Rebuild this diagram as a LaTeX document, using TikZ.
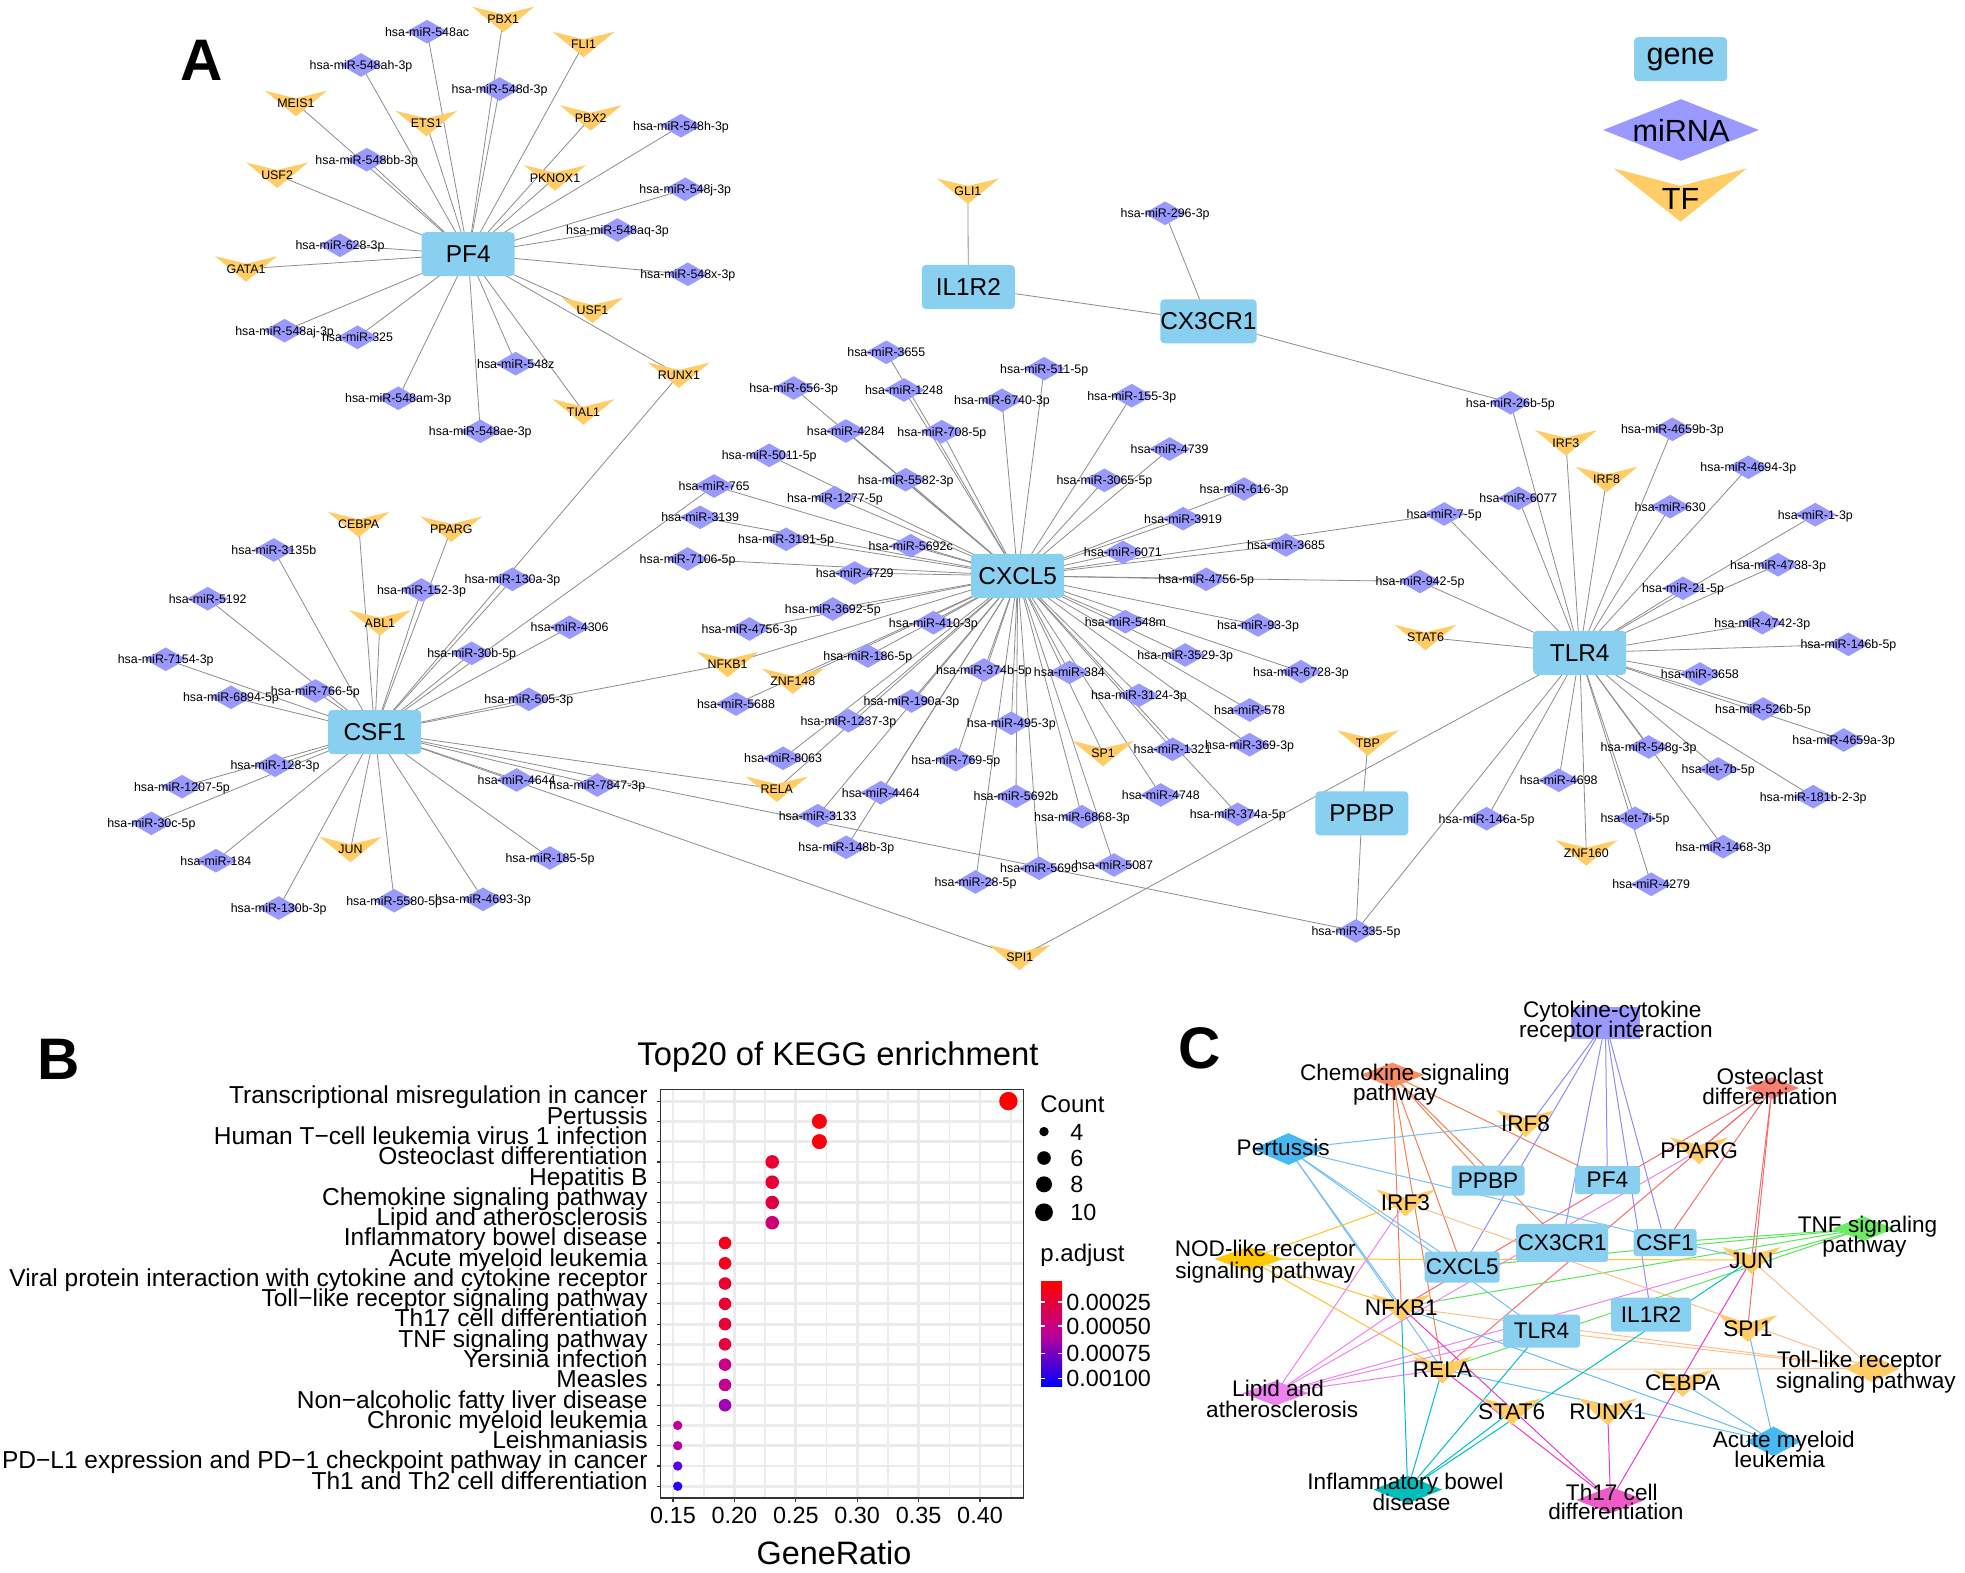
\documentclass[tikz,border=0pt]{standalone}
\usepackage{fontspec}
\setmainfont{Liberation Sans}
\usetikzlibrary{shapes.geometric,backgrounds}
\definecolor{genec}{RGB}{137,207,240}
\definecolor{mirc}{RGB}{153,153,255}
\definecolor{tfc}{RGB}{255,204,102}
\definecolor{edgec}{RGB}{140,140,140}
\definecolor{gridc}{RGB}{235,235,235}
\definecolor{axc}{RGB}{51,51,51}
\definecolor{fCyto}{RGB}{153,153,255}
\definecolor{fChemo}{RGB}{250,140,100}
\definecolor{fOsteo}{RGB}{250,128,114}
\definecolor{fPert}{RGB}{70,185,245}
\definecolor{fTNF}{RGB}{110,235,100}
\definecolor{fNOD}{RGB}{255,200,0}
\definecolor{fToll}{RGB}{255,204,102}
\definecolor{fLipid}{RGB}{238,130,238}
\definecolor{fAML}{RGB}{70,185,245}
\definecolor{fIBD}{RGB}{0,190,190}
\definecolor{fTh}{RGB}{240,90,200}
\definecolor{eCyto}{RGB}{140,140,250}
\definecolor{eChemo}{RGB}{245,125,80}
\definecolor{eOsteo}{RGB}{245,110,110}
\definecolor{ePert}{RGB}{120,190,245}
\definecolor{eTNF}{RGB}{90,230,90}
\definecolor{eNOD}{RGB}{255,195,40}
\definecolor{eToll}{RGB}{255,190,140}
\definecolor{eLipid}{RGB}{240,130,240}
\definecolor{eAML}{RGB}{100,190,240}
\definecolor{eIBD}{RGB}{0,190,200}
\definecolor{eTh}{RGB}{230,60,210}
\definecolor{d1}{RGB}{255,0,0}
\definecolor{d2}{RGB}{252,0,12}
\definecolor{d3}{RGB}{252,0,12}
\definecolor{d4}{RGB}{232,0,50}
\definecolor{d5}{RGB}{232,0,52}
\definecolor{d6}{RGB}{225,0,70}
\definecolor{d7}{RGB}{205,0,115}
\definecolor{d8}{RGB}{245,0,28}
\definecolor{d9}{RGB}{245,0,30}
\definecolor{d10}{RGB}{236,0,50}
\definecolor{d11}{RGB}{236,0,52}
\definecolor{d12}{RGB}{234,0,56}
\definecolor{d13}{RGB}{230,0,62}
\definecolor{d14}{RGB}{200,0,135}
\definecolor{d15}{RGB}{195,0,145}
\definecolor{d16}{RGB}{165,0,185}
\definecolor{d17}{RGB}{190,0,150}
\definecolor{d18}{RGB}{185,0,160}
\definecolor{d19}{RGB}{85,0,240}
\definecolor{d20}{RGB}{35,0,255}
\newcommand\mirN[4]{\node[mirna] (#1) at (#2,#3) {};\node[mtxt] (#1t) at (#2,#3) {#4};}
\newcommand\tfN[4]{\fill[tfc,shift={(#2,#3)}] (-31,-12.5) -- (0,-5) -- (31,-12.5) -- (0,13) -- cycle;\node[mtxt] (#1) at (#2,#3) {#4};}
\newcommand\tfC[4]{\fill[tfc,shift={(#2,#3)}] (-29.5,-13) -- (0,-5) -- (29.5,-13) -- (0,14) -- cycle;\node[ctxt] (#1) at (#2,#3) {#4};}
\newcommand\pwN[6]{\node[diamond,fill=#6,minimum width=#4,minimum height=#5,inner sep=0pt] (#1) at (#2,#3) {};}
\newcommand\gC[6]{\node[geneC,minimum width=#4,minimum height=#5] (#1) at (#2,#3) {#6};}
\begin{document}
\begin{tikzpicture}[x=0.5pt,y=-0.5pt,
 geneA/.style={rectangle,rounded corners=2pt,fill=genec,minimum width=46.5pt,minimum height=22pt,inner sep=0pt,font=\fontsize{12.2}{13}\selectfont},
 mirna/.style={diamond,fill=mirc,minimum width=21pt,minimum height=12pt,inner sep=0pt},
 mtxt/.style={inner sep=0pt,font=\fontsize{6.2}{7}\selectfont,text height=4.45pt,text depth=0pt},
 ctxt/.style={inner sep=0pt,font=\fontsize{11.3}{12}\selectfont,text height=8.1pt,text depth=0pt},
 geneC/.style={rectangle,rounded corners=1.5pt,fill=genec,inner sep=0pt,font=\fontsize{11.3}{12}\selectfont},
 edgeA/.style={draw=edgec,line width=0.4pt},
 edgeC/.style={line width=0.5pt},
 lbl/.style={inner sep=0pt,font=\fontsize{29.3}{30}\selectfont\bfseries},
 btxt/.style={inner sep=0pt,font=\fontsize{12.25}{13}\selectfont,text height=8.8pt,text depth=0pt,anchor=east},
 ttxt/.style={inner sep=0pt,font=\fontsize{11.7}{12}\selectfont,text height=8.4pt,text depth=0pt},
]
\useasboundingbox (0,0) rectangle (1965,1573);
% ================= PANEL A =================
\node[lbl] (labA) at (202,60) {A};
% PF4 cluster
\mirN{m548ac}{427.1}{31.7}{hsa-miR-548ac}
\tfN{tPBX1}{503.2}{19.3}{PBX1}
\tfN{tFLI1}{583.5}{44.3}{FLI1}
\mirN{m548ah}{361}{65}{hsa-miR-548ah-3p}
\mirN{m548d}{499.6}{89}{hsa-miR-548d-3p}
\tfN{tMEIS1}{296}{103.3}{MEIS1}
\tfN{tETS1}{426.4}{123.3}{ETS1}
\tfN{tPBX2}{590.7}{117.7}{PBX2}
\mirN{m548h}{681}{125.7}{hsa-miR-548h-3p}
\mirN{m548bb}{366.8}{159.7}{hsa-miR-548bb-3p}
\tfN{tUSF2}{277.1}{175}{USF2}
\tfN{tPKNOX1}{555}{177.7}{PKNOX1}
\mirN{m548j}{685.3}{189.3}{hsa-miR-548j-3p}
\mirN{m548aq}{617.5}{230}{hsa-miR-548aq-3p}
\mirN{m628}{340}{245.3}{hsa-miR-628-3p}
\tfN{tGATA1}{246.1}{268.7}{GATA1}
\mirN{m548x}{687.8}{274.3}{hsa-miR-548x-3p}
\tfN{tUSF1}{592.5}{310}{USF1}
\mirN{m548aj}{284.6}{330.7}{hsa-miR-548aj-3p}
\mirN{m325}{357.5}{337.3}{hsa-miR-325}
\mirN{m548z}{515.7}{363.7}{hsa-miR-548z}
\tfN{tRUNX1}{678.9}{375}{RUNX1}
\mirN{m548am}{398.2}{398.3}{hsa-miR-548am-3p}
\tfN{tTIAL1}{583.5}{411.7}{TIAL1}
\mirN{m548ae}{480.3}{431.3}{hsa-miR-548ae-3p}
% CSF1 cluster
\tfN{tCEBPA}{358.7}{524.3}{CEBPA}
\tfN{tPPARG}{451.3}{529}{PPARG}
\mirN{m3135b}{273.8}{550}{hsa-miR-3135b}
\mirN{m130a}{512.5}{579.3}{hsa-miR-130a-3p}
\mirN{m152}{421.5}{590}{hsa-miR-152-3p}
\mirN{m5192}{207.7}{598.7}{hsa-miR-5192}
\tfN{tABL1}{379.9}{622.7}{ABL1}
\mirN{m4306}{569.6}{627.3}{hsa-miR-4306}
\mirN{m30b}{471.7}{653.3}{hsa-miR-30b-5p}
\mirN{m7154}{165.7}{659.3}{hsa-miR-7154-3p}
\mirN{m766}{315.4}{691}{hsa-miR-766-5p}
\mirN{m6894}{231}{697.3}{hsa-miR-6894-5p}
\mirN{m505}{528.8}{699.3}{hsa-miR-505-3p}
\mirN{m128}{275}{765.3}{hsa-miR-128-3p}
\mirN{m1207}{182}{786.7}{hsa-miR-1207-5p}
\mirN{m4644}{516.6}{780}{hsa-miR-4644}
\mirN{m7847}{597.3}{785}{hsa-miR-7847-3p}
\mirN{m30c}{151.4}{823.3}{hsa-miR-30c-5p}
\tfN{tJUN}{350.5}{849.3}{JUN}
\mirN{m184}{215.9}{860.7}{hsa-miR-184}
\mirN{m185}{550}{858}{hsa-miR-185-5p}
\mirN{m130b}{278.7}{908}{hsa-miR-130b-3p}
\mirN{m5580}{394.2}{900.7}{hsa-miR-5580-5p}
\mirN{m4693}{483.1}{899.3}{hsa-miR-4693-3p}
% CXCL5 cluster
\mirN{m3655}{886.3}{352.3}{hsa-miR-3655}
\mirN{m656}{793.7}{388}{hsa-miR-656-3p}
\mirN{m1248}{904}{390}{hsa-miR-1248}
\mirN{m511}{1044.2}{368.7}{hsa-miR-511-5p}
\mirN{m6740}{1002}{400.3}{hsa-miR-6740-3p}
\mirN{m155}{1131.7}{395.7}{hsa-miR-155-3p}
\mirN{m4284}{845.9}{431}{hsa-miR-4284}
\mirN{m708}{941.9}{431.7}{hsa-miR-708-5p}
\mirN{m5011}{769.2}{455.3}{hsa-miR-5011-5p}
\mirN{m4739}{1169.6}{449}{hsa-miR-4739}
\mirN{m5582}{905.7}{479.7}{hsa-miR-5582-3p}
\mirN{m3065}{1104.4}{480.3}{hsa-miR-3065-5p}
\mirN{m765}{714.1}{486}{hsa-miR-765}
\mirN{m1277}{834.9}{497.7}{hsa-miR-1277-5p}
\mirN{m616}{1244.1}{489}{hsa-miR-616-3p}
\mirN{m3139}{700.2}{517.3}{hsa-miR-3139}
\mirN{m3919}{1183.1}{518.7}{hsa-miR-3919}
\mirN{m3191}{786.1}{539.3}{hsa-miR-3191-5p}
\mirN{m5692c}{910.7}{545.7}{hsa-miR-5692c}
\mirN{m7106}{687.6}{559}{hsa-miR-7106-5p}
\mirN{m6071}{1122.9}{552.3}{hsa-miR-6071}
\mirN{m4729}{854.7}{573}{hsa-miR-4729}
\mirN{m3685}{1286}{545}{hsa-miR-3685}
\mirN{m4756f}{1206.2}{579.3}{hsa-miR-4756-5p}
\mirN{m942}{1420}{581.5}{hsa-miR-942-5p}
\mirN{m7five}{1444.2}{514}{hsa-miR-7-5p}
\mirN{m3692}{832.8}{609}{hsa-miR-3692-5p}
\mirN{m4756t}{749.5}{629}{hsa-miR-4756-3p}
\mirN{m410}{933.4}{622.7}{hsa-miR-410-3p}
\mirN{m548m}{1125.4}{621.7}{hsa-miR-548m}
\mirN{m93}{1258}{625}{hsa-miR-93-3p}
\mirN{m6728}{1301}{671.7}{hsa-miR-6728-3p}
\tfN{tNFKB1}{727.6}{664.3}{NFKB1}
\mirN{m186}{867.8}{656}{hsa-miR-186-5p}
\tfN{tZNF148}{792.8}{681}{ZNF148}
\mirN{m374b}{984}{670}{hsa-miR-374b-5p}
\mirN{m384}{1069.4}{672.3}{hsa-miR-384}
\mirN{m3529}{1185.2}{655}{hsa-miR-3529-3p}
\mirN{m5688}{736}{704}{hsa-miR-5688}
\mirN{m190a}{911.5}{701}{hsa-miR-190a-3p}
\mirN{m3124}{1138.9}{695.3}{hsa-miR-3124-3p}
\mirN{m578}{1249.6}{710}{hsa-miR-578}
\mirN{m1237}{848.4}{720.7}{hsa-miR-1237-3p}
\mirN{m495}{1011.3}{723.3}{hsa-miR-495-3p}
\mirN{m8063}{783.1}{758.3}{hsa-miR-8063}
\mirN{m769}{955.8}{759.7}{hsa-miR-769-5p}
\tfN{tSP1}{1103.1}{753.3}{SP1}
\mirN{m1321}{1172.6}{749.3}{hsa-miR-1321}
\mirN{m369}{1249.6}{744.7}{hsa-miR-369-3p}
\tfN{tRELA}{776.8}{789}{RELA}
\mirN{m4464}{880.8}{792.7}{hsa-miR-4464}
\mirN{m5692b}{1016}{796.3}{hsa-miR-5692b}
\mirN{m4748}{1160.8}{795}{hsa-miR-4748}
\mirN{m3133}{817.7}{815.7}{hsa-miR-3133}
\mirN{m6868}{1082}{816.7}{hsa-miR-6868-3p}
\mirN{m374a}{1237.8}{814.3}{hsa-miR-374a-5p}
\mirN{m148b}{846.3}{847.3}{hsa-miR-148b-3p}
\mirN{m5696}{1039.1}{868.3}{hsa-miR-5696}
\mirN{m5087}{1114}{865}{hsa-miR-5087}
\mirN{m28}{975.5}{882}{hsa-miR-28-5p}
\tfN{tSPI1}{1019.7}{957.3}{SPI1}
% TLR4 cluster
\mirN{m26b}{1510.4}{402.7}{hsa-miR-26b-5p}
\tfN{tIRF3}{1565.9}{442.7}{IRF3}
\mirN{m4659b}{1672.4}{429.3}{hsa-miR-4659b-3p}
\tfN{tIRF8}{1606.6}{479.3}{IRF8}
\mirN{m4694}{1748.3}{467.3}{hsa-miR-4694-3p}
\mirN{m6077}{1518.4}{498.3}{hsa-miR-6077}
\mirN{m630}{1670.2}{506.7}{hsa-miR-630}
\mirN{m1three}{1815.3}{514.7}{hsa-miR-1-3p}
\mirN{m4738}{1778}{564.7}{hsa-miR-4738-3p}
\mirN{m21}{1683}{588.3}{hsa-miR-21-5p}
\mirN{m4742}{1762.3}{622.7}{hsa-miR-4742-3p}
\tfN{tSTAT6}{1425.5}{637.3}{STAT6}
\mirN{m146b}{1848.4}{644.3}{hsa-miR-146b-5p}
\mirN{m3658}{1699.9}{674}{hsa-miR-3658}
\mirN{m526b}{1763.1}{709}{hsa-miR-526b-5p}
\tfN{tTBP}{1367.9}{742.7}{TBP}
\mirN{m4659a}{1843.7}{740}{hsa-miR-4659a-3p}
\mirN{m548g}{1648.6}{747}{hsa-miR-548g-3p}
\mirN{mletsb}{1718.2}{769}{hsa-let-7b-5p}
\mirN{m4698}{1558.7}{780.3}{hsa-miR-4698}
\mirN{m181b}{1813.2}{796.7}{hsa-miR-181b-2-3p}
\mirN{m146a}{1486.6}{818.7}{hsa-miR-146a-5p}
\mirN{mletsi}{1635}{818.3}{hsa-let-7i-5p}
\mirN{m1468}{1723.2}{846.7}{hsa-miR-1468-3p}
\tfN{tZNF160}{1586.3}{852.7}{ZNF160}
\mirN{m4279}{1651.2}{884.3}{hsa-miR-4279}
\mirN{m335}{1356}{931}{hsa-miR-335-5p}
% others
\tfN{tGLI1}{967.9}{191}{GLI1}
\mirN{m296}{1165.1}{213.3}{hsa-miR-296-3p}
% genes
\node[geneA] (PF4) at (468.2,254.2) {PF4};
\node[geneA] (CSF1) at (374.7,732) {CSF1};
\node[geneA] (CXCL5) at (1017.7,575.8) {CXCL5};
\node[geneA] (IL1R2) at (968.3,287) {IL1R2};
\node[geneA] (CX3CR1) at (1208.4,321.3) {CX3CR1};
\node[geneA] (TLR4) at (1579.7,652.8) {TLR4};
\node[geneA] (PPBP) at (1361.9,813.3) {PPBP};
% legend
\node[geneA,font=\fontsize{15.3}{16}\selectfont] (lgene) at (1680.6,59.2) {gene};
\node[diamond,fill=mirc,minimum width=78pt,minimum height=31pt,inner sep=0pt] (lmir) at (1681,130) {};
\node[inner sep=0pt,font=\fontsize{15.3}{16}\selectfont] (lmirt) at (1681,130) {miRNA};
\fill[tfc] (1613.5,168.3) -- (1680.6,186) -- (1747,168.3) -- (1680.6,221.7) -- cycle;
\node[inner sep=0pt,font=\fontsize{15.3}{16}\selectfont] (ltf) at (1680.6,199) {TF};
% ================= PANEL B =================
\node[lbl] (labB) at (58.5,1059) {B};
\node[inner sep=0pt,font=\fontsize{16.4}{17}\selectfont] (bTitle) at (838,1057) {Top20 of KEGG enrichment};
\foreach \xx in {703.7,765.1,826.5,887.9,949.3,1010.7} \draw[gridc,line width=0.8pt] (\xx,1089.5) -- (\xx,1497.9);
\foreach \xx in {673,734.4,795.8,857.2,918.6,980} \draw[gridc,line width=1.4pt] (\xx,1089.5) -- (\xx,1497.9);
\foreach \yy in {1101.1,1121.4,1141.6,1161.9,1182.2,1202.5,1222.7,1243.0,1263.3,1283.5,1303.8,1324.1,1344.3,1364.6,1384.9,1405.2,1425.4,1445.7,1466.0,1486.2}
 {\draw[gridc,line width=1.4pt] (660.7,\yy) -- (1023.3,\yy); \draw[axc,line width=0.6pt] (656.5,\yy) -- (660.7,\yy);}
\foreach \xx in {673,734.4,795.8,857.2,918.6,980} \draw[axc,line width=0.6pt] (\xx,1497.9) -- (\xx,1502.2);
\draw[axc,line width=0.7pt] (660.7,1089.5) rectangle (1023.3,1497.9);
% dots
\fill[d1] (1008.4,1101.1) circle[radius=4.6pt];
\fill[d2] (819.4,1121.4) circle[radius=3.75pt];
\fill[d3] (819.4,1141.6) circle[radius=3.75pt];
\fill[d4] (772.2,1161.9) circle[radius=3.4pt];
\fill[d5] (772.2,1182.2) circle[radius=3.4pt];
\fill[d6] (772.2,1202.5) circle[radius=3.4pt];
\fill[d7] (772.2,1222.7) circle[radius=3.4pt];
\fill[d8] (725,1243.0) circle[radius=3.15pt];
\fill[d9] (725,1263.3) circle[radius=3.15pt];
\fill[d10] (725,1283.5) circle[radius=3.15pt];
\fill[d11] (725,1303.8) circle[radius=3.15pt];
\fill[d12] (725,1324.1) circle[radius=3.15pt];
\fill[d13] (725,1344.3) circle[radius=3.15pt];
\fill[d14] (725,1364.6) circle[radius=3.15pt];
\fill[d15] (725,1384.9) circle[radius=3.15pt];
\fill[d16] (725,1405.2) circle[radius=3.15pt];
\fill[d17] (677.7,1425.4) circle[radius=2.35pt];
\fill[d18] (677.7,1445.7) circle[radius=2.35pt];
\fill[d19] (677.7,1466.0) circle[radius=2.35pt];
\fill[d20] (677.7,1486.2) circle[radius=2.35pt];
% y labels
\node[btxt] (bL1) at (648,1095.1) {Transcriptional misregulation in cancer};
\node[btxt] (bL2) at (648,1115.4) {Pertussis};
\node[btxt] (bL3) at (648,1135.6) {Human T−cell leukemia virus 1 infection};
\node[btxt] (bL4) at (648,1155.9) {Osteoclast differentiation};
\node[btxt] (bL5) at (648,1176.2) {Hepatitis B};
\node[btxt] (bL6) at (648,1196.5) {Chemokine signaling pathway};
\node[btxt] (bL7) at (648,1216.7) {Lipid and atherosclerosis};
\node[btxt] (bL8) at (648,1237.0) {Inflammatory bowel disease};
\node[btxt] (bL9) at (648,1257.3) {Acute myeloid leukemia};
\node[btxt] (bL10) at (648,1277.5) {Viral protein interaction with cytokine and cytokine receptor};
\node[btxt] (bL11) at (648,1297.8) {Toll−like receptor signaling pathway};
\node[btxt] (bL12) at (648,1318.1) {Th17 cell differentiation};
\node[btxt] (bL13) at (648,1338.3) {TNF signaling pathway};
\node[btxt] (bL14) at (648,1358.6) {Yersinia infection};
\node[btxt] (bL15) at (648,1378.9) {Measles};
\node[btxt] (bL16) at (648,1399.2) {Non−alcoholic fatty liver disease};
\node[btxt] (bL17) at (648,1419.4) {Chronic myeloid leukemia};
\node[btxt] (bL18) at (648,1439.7) {Leishmaniasis};
\node[btxt] (bL19) at (648,1460.0) {PD−L1 expression and PD−1 checkpoint pathway in cancer};
\node[btxt] (bL20) at (648,1480.2) {Th1 and Th2 cell differentiation};
% x tick labels
\node[ttxt] (bX1) at (673,1515) {0.15};
\node[ttxt] (bX2) at (734.4,1515) {0.20};
\node[ttxt] (bX3) at (795.8,1515) {0.25};
\node[ttxt] (bX4) at (857.2,1515) {0.30};
\node[ttxt] (bX5) at (918.6,1515) {0.35};
\node[ttxt] (bX6) at (980,1515) {0.40};
\node[inner sep=0pt,font=\fontsize{16.2}{17}\selectfont] (bXT) at (834,1552.6) {GeneRatio};
% legends
\node[inner sep=0pt,anchor=west,font=\fontsize{12}{13}\selectfont] (bCount) at (1040,1104) {Count};
\fill[black] (1044,1131.6) circle[radius=2.35pt];
\fill[black] (1044,1158) circle[radius=3.4pt];
\fill[black] (1044,1184.3) circle[radius=4.0pt];
\fill[black] (1044,1212.3) circle[radius=4.45pt];
\node[ttxt,anchor=west] (bC4) at (1070,1131.6) {4};
\node[ttxt,anchor=west] (bC6) at (1070,1158) {6};
\node[ttxt,anchor=west] (bC8) at (1070,1184.3) {8};
\node[ttxt,anchor=west] (bC10) at (1070,1212.3) {10};
\node[inner sep=0pt,anchor=west,font=\fontsize{12}{13}\selectfont] (bPadj) at (1040,1255.7) {p.adjust};
\shade[top color=red,bottom color=blue,middle color={rgb,255:red,190;green,0;blue,150}] (1041,1281) rectangle (1062,1386);
\foreach \yy in {1302,1326,1353.5,1378.5} {\draw[white,line width=0.6pt] (1041,\yy) -- (1045,\yy); \draw[white,line width=0.6pt] (1058,\yy) -- (1062,\yy);}
\node[ttxt,anchor=west] (bP1) at (1066,1302) {0.00025};
\node[ttxt,anchor=west] (bP2) at (1066,1326) {0.00050};
\node[ttxt,anchor=west] (bP3) at (1066,1353.5) {0.00075};
\node[ttxt,anchor=west] (bP4) at (1066,1378.5) {0.00100};
% ================= PANEL C =================
\node[lbl] (labC) at (1200,1048) {C};
\node[rectangle,fill=fCyto,minimum width=34.5pt,minimum height=16pt,inner sep=0pt] (cCyto) at (1605.4,1022.6) {};
\pwN{cChemo}{1392.3}{1075}{32pt}{12.5pt}{fChemo}
\pwN{cOsteo}{1772}{1088}{27pt}{11pt}{fOsteo}
\pwN{cPert}{1288.3}{1149}{36pt}{16pt}{fPert}
\pwN{cTNF}{1863.4}{1228.7}{31pt}{12.5pt}{fTNF}
\pwN{cNOD}{1248.5}{1259}{34.5pt}{12.5pt}{fNOD}
\pwN{cToll}{1872.4}{1368.6}{27pt}{14pt}{fToll}
\pwN{cLipid}{1275.5}{1393.2}{33.5pt}{12.5pt}{fLipid}
\pwN{cAML}{1773.5}{1441.4}{28pt}{15pt}{fAML}
\pwN{cIBD}{1407.7}{1489.6}{34.5pt}{14pt}{fIBD}
\pwN{cTh}{1610.5}{1500}{34.5pt}{13.5pt}{fTh}
\tfC{cIRF8}{1525.5}{1123}{IRF8}
\tfC{cPPARG}{1699.1}{1150.2}{PPARG}
\tfC{cIRF3}{1405.4}{1202.4}{IRF3}
\tfC{cJUN}{1751.4}{1259.9}{JUN}
\tfC{cNFKB1}{1401.3}{1307.1}{NFKB1}
\tfC{cSPI1}{1747.8}{1327.9}{SPI1}
\tfC{cRELA}{1442.4}{1369.5}{RELA}
\tfC{cCEBPA}{1682.6}{1382.8}{CEBPA}
\tfC{cSTAT6}{1511.7}{1411.1}{STAT6}
\tfC{cRUNX1}{1607.7}{1411.1}{RUNX1}
\gC{cPPBP}{1488}{1180.5}{36.5pt}{15pt}{PPBP}
\gC{cPF4}{1607.4}{1180}{32.5pt}{14pt}{PF4}
\gC{cCX3CR1}{1562.2}{1242.9}{46pt}{19pt}{CX3CR1}
\gC{cCSF1}{1665}{1242.5}{31.5pt}{13.5pt}{CSF1}
\gC{cCXCL5}{1462.2}{1267}{37.5pt}{15.5pt}{CXCL5}
\gC{cIL1R2}{1651.1}{1314.7}{40pt}{17pt}{IL1R2}
\gC{cTLR4}{1541.5}{1331}{38.5pt}{16.5pt}{TLR4}
% pathway texts
\node[ctxt] (cCytoT1) at (1612.3,1009.5) {Cytokine-cytokine};
\node[ctxt] (cCytoT2) at (1615.9,1029.2) {receptor interaction};
\node[ctxt] (cChemoT1) at (1404.9,1072.7) {Chemokine signaling};
\node[ctxt] (cChemoT2) at (1395.1,1092.3) {pathway};
\node[ctxt] (cOsteoT1) at (1769.9,1076.4) {Osteoclast};
\node[ctxt] (cOsteoT2) at (1769.9,1096.5) {differentiation};
\node[ctxt] (cPertT) at (1283.2,1147.2) {Pertussis};
\node[ctxt] (cTNFT1) at (1867.5,1224) {TNF signaling};
\node[ctxt] (cTNFT2) at (1864.4,1244.7) {pathway};
\node[ctxt] (cNODT1) at (1265.2,1248.5) {NOD-like receptor};
\node[ctxt] (cNODT2) at (1265.2,1270.5) {signaling pathway};
\node[ctxt] (cTollT1) at (1859.3,1359.3) {Toll-like receptor};
\node[ctxt] (cTollT2) at (1865.9,1380.1) {signaling pathway};
\node[ctxt] (cLipidT1) at (1278.1,1388.5) {Lipid and};
\node[ctxt] (cLipidT2) at (1282.2,1409.3) {atherosclerosis};
\node[ctxt] (cAMLT1) at (1783.8,1439.5) {Acute myeloid};
\node[ctxt] (cAMLT2) at (1779.7,1459.6) {leukemia};
\node[ctxt] (cIBDT1) at (1405.4,1481.1) {Inflammatory bowel};
\node[ctxt] (cIBDT2) at (1411.6,1501.9) {disease};
\node[ctxt] (cThT1) at (1611.8,1492.5) {Th17 cell};
\node[ctxt] (cThT2) at (1615.9,1511.4) {differentiation};
% ================= EDGES =================
\begin{pgfonlayer}{background}
\fill[white] (0,0) rectangle (1965,1573);
\foreach \n in {m548ac,tPBX1,tFLI1,m548ah,m548d,tMEIS1,tETS1,tPBX2,m548h,m548bb,tUSF2,tPKNOX1,m548j,m548aq,m628,tGATA1,m548x,tUSF1,m548aj,m325,m548z,tRUNX1,m548am,tTIAL1,m548ae}
 \draw[edgeA] (PF4.center) -- (\n.center);
\foreach \n in {tCEBPA,tPPARG,m3135b,m130a,m152,m5192,tABL1,m4306,m30b,m7154,m766,m6894,m505,m128,m1207,m4644,m7847,m30c,tJUN,m184,m185,m130b,m5580,m4693,tRUNX1,m765,tNFKB1,tRELA,m335,tSPI1}
 \draw[edgeA] (CSF1.center) -- (\n.center);
\foreach \n in {m3655,m656,m1248,m511,m6740,m155,m4284,m708,m5011,m4739,m5582,m3065,m765,m1277,m616,m3139,m3919,m3191,m5692c,m7106,m6071,m4729,m3685,m4756f,m942,m7five,m3692,m4756t,m410,m548m,m93,m6728,tNFKB1,m186,tZNF148,m374b,m384,m3529,m5688,m190a,m3124,m578,m1237,m495,m8063,m769,tSP1,m1321,m369,tRELA,m4464,m5692b,m4748,m3133,m6868,m374a,m148b,m5696,m5087,m28}
 \draw[edgeA] (CXCL5.center) -- (\n.center);
\foreach \n in {m26b,tIRF3,m4659b,tIRF8,m4694,m6077,m630,m7five,m1three,m4738,m942,m21,m4742,tSTAT6,m146b,m3658,m526b,m4659a,m548g,mletsb,m4698,m181b,m146a,mletsi,m1468,tZNF160,m4279,tSPI1,m335}
 \draw[edgeA] (TLR4.center) -- (\n.center);
\draw[edgeA] (IL1R2.center) -- (tGLI1.center);
\draw[edgeA] (IL1R2.center) -- (CX3CR1.center);
\draw[edgeA] (CX3CR1.center) -- (m296.center);
\draw[edgeA] (CX3CR1.center) -- (m26b.center);
\draw[edgeA] (PPBP.center) -- (tTBP.center);
\draw[edgeA] (PPBP.center) -- (m335.center);
% panel C edges
\foreach \n in {cPPBP,cPF4,cCX3CR1,cCSF1,cCXCL5,cIL1R2} \draw[edgeC,eCyto] (cCyto.center) -- (\n.center);
\foreach \n in {cPPBP,cPF4,cCXCL5,cCX3CR1,cNFKB1,cRELA} \draw[edgeC,eChemo] (cChemo.center) -- (\n.center);
\foreach \n in {cPPARG,cCSF1,cJUN,cSPI1,cNFKB1,cRELA} \draw[edgeC,eOsteo] (cOsteo.center) -- (\n.center);
\foreach \n in {cIRF8,cJUN,cCXCL5,cTLR4,cNFKB1,cRELA} \draw[edgeC,ePert] (cPert.center) -- (\n.center);
\foreach \n in {cCSF1,cJUN,cCXCL5,cNFKB1,cRELA} \draw[edgeC,eTNF] (cTNF.center) -- (\n.center);
\foreach \n in {cIRF3,cJUN,cNFKB1,cRELA} \draw[edgeC,eNOD] (cNOD.center) -- (\n.center);
\foreach \n in {cIRF3,cJUN,cTLR4,cNFKB1,cRELA} \draw[edgeC,eToll] (cToll.center) -- (\n.center);
\foreach \n in {cIRF3,cNFKB1,cRELA,cTLR4,cJUN,cPPARG} \draw[edgeC,eLipid] (cLipid.center) -- (\n.center);
\foreach \n in {cSPI1,cCEBPA,cNFKB1,cRELA} \draw[edgeC,eAML] (cAML.center) -- (\n.center);
\foreach \n in {cJUN,cTLR4,cNFKB1,cRELA,cSTAT6} \draw[edgeC,eIBD] (cIBD.center) -- (\n.center);
\foreach \n in {cJUN,cRUNX1,cNFKB1,cRELA} \draw[edgeC,eTh] (cTh.center) -- (\n.center);
\end{pgfonlayer}
\end{tikzpicture}
\end{document}
